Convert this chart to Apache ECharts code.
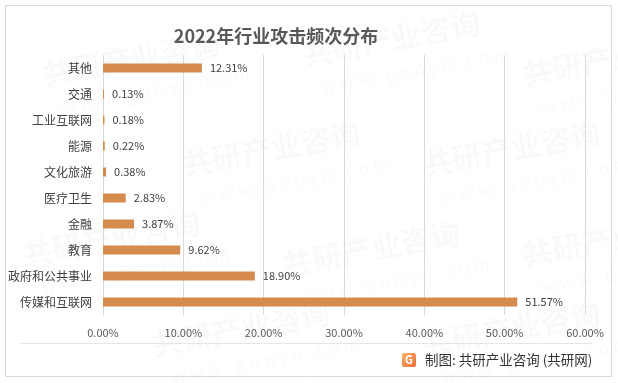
<!DOCTYPE html>
<html><head><meta charset="utf-8">
<script src="https://cdn.jsdelivr.net/npm/echarts@6/dist/echarts.min.js"></script>
<style>html,body{margin:0;padding:0;background:#fff}#c{width:618px;height:383px}</style>
</head><body><div id="c"></div>
<script>
const categories = ['传媒和互联网','政府和公共事业','教育','金融','医疗卫生','文化旅游','能源','工业互联网','交通','其他'];
const values = [51.57, 18.90, 9.62, 3.87, 2.83, 0.38, 0.22, 0.18, 0.13, 12.31];
const xTicks = [0, 10, 20, 30, 40, 50, 60];
const titleText = '2022年行业攻击频次分布';
const sourceText = '制图: 共研产业咨询 (共研网)';

const FONT = '"Noto Sans CJK SC", "Microsoft YaHei", sans-serif';
const chart = echarts.init(document.getElementById('c'), null, {renderer: 'canvas'});

const wm = [];
const wmPos = [[40,60],[300,40],[520,60],[180,150],[420,150],[20,240],[280,250],[520,240],[150,330],[420,330]];
wmPos.forEach(p => {
  wm.push({type:'text', x:p[0], y:p[1], rotation: 0.18, silent:true, z:-10,
    style:{text:'共研产业咨询', font:'bold 30px ' + FONT, fill:'rgba(0,0,0,0.022)'}});
  wm.push({type:'text', x:p[0]+20, y:p[1]+38, rotation: 0.18, silent:true, z:-10,
    style:{text:'w w w . g o n y n . c o m', font:'18px ' + FONT, fill:'rgba(0,0,0,0.022)'}});
});

chart.setOption({
  animation: false,
  backgroundColor: '#fff',
  title: {
    text: titleText, left: 271, top: 22, textAlign: 'center',
    textStyle: {fontFamily: FONT, fontSize: 18, fontWeight: 'bold', color: '#595959'}
  },
  grid: {left: 103, right: 33, top: 55, bottom: 68, containLabel: false},
  xAxis: {
    type: 'value', min: xTicks[0], max: xTicks[xTicks.length-1], interval: 10,
    axisLine: {show: false}, axisTick: {show: false},
    splitLine: {lineStyle: {color: '#d9d9d9', width: 1}},
    axisLabel: {formatter: v => v.toFixed(2) + '%', fontFamily: FONT, fontSize: 11, color: '#595959', margin: 12}
  },
  yAxis: {
    type: 'category', data: categories,
    axisLine: {show: false}, axisTick: {show: false},
    axisLabel: {fontFamily: FONT, fontSize: 12, color: '#404040', margin: 11}
  },
  series: [{
    type: 'bar', data: values, barWidth: 9,
    itemStyle: {color: '#D58B4E'},
    label: {show: true, position: 'right', distance: 8, formatter: p => p.value.toFixed(2) + '%',
      fontFamily: FONT, fontSize: 11, color: '#404040'}
  }],
  graphic: wm.concat([
    {type:'rect', shape:{x:5.5, y:5.5, width:606, height:371}, style:{fill:'none', stroke:'#d9d9d9', lineWidth:1}, z:-20, silent:true},
    {type:'line', shape:{x1:20, y1:343.5, x2:592, y2:343.5}, style:{stroke:'#e6e6e6', lineWidth:1}, silent:true},
    {type:'rect', shape:{x:402, y:353, width:14, height:14, r:2},
      style:{fill: new echarts.graphic.LinearGradient(0,0,1,1,[{offset:0,color:'#F7B267'},{offset:1,color:'#EE6B3B'}])}, silent:true},
    {type:'text', x:409, y:360, style:{text:'G', font:'bold 11px ' + FONT, fill:'#fff', align:'center', verticalAlign:'middle'}, silent:true},
    {type:'text', x:425, y:360, style:{text: sourceText, font:'13.5px ' + FONT, fill:'#333', verticalAlign:'middle'}, silent:true}
  ])
});
</script></body></html>
